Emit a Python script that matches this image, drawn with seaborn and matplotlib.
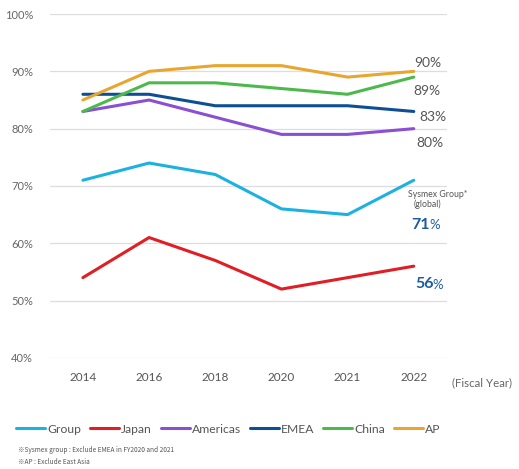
import matplotlib
matplotlib.use("Agg")
import matplotlib.pyplot as plt
import seaborn as sns
import pandas as pd

years = ["2014", "2016", "2018", "2020", "2021", "2022"]
group = [71, 74, 72, 66, 65, 71]
japan = [54, 61, 57, 52, 54, 56]
americas = [83, 85, 82, 79, 79, 80]
emea = [86, 86, 84, 84, 84, 83]
china = [83, 88, 88, 87, 86, 89]
ap = [85, 90, 91, 91, 89, 90]
series_names = ["Group", "Japan", "Americas", "EMEA", "China", "AP"]
colors = ["#1db1e2", "#e01e25", "#8a4fd3", "#0d4f97", "#4db94c", "#e8a630"]
yticks = [40, 50, 60, 70, 80, 90, 100]

sns.set_theme(style="white")
plt.rcParams['font.family'] = ['Lato', 'DejaVu Sans']

rows = []
for name, vals in zip(series_names, [group, japan, americas, emea, china, ap]):
    for i, (y, v) in enumerate(zip(years, vals)):
        rows.append({"idx": i, "year": y, "value": v, "series": name})
df = pd.DataFrame(rows)

fig = plt.figure(figsize=(5.19, 4.69), dpi=100)
ax = fig.add_axes([0.096, 0.237, 0.765, 0.733])

sns.lineplot(data=df, x="idx", y="value", hue="series", hue_order=series_names,
             palette=colors, linewidth=2.2, ax=ax, legend=False, sort=False)

ax.set_xlim(-0.5, 5.5)
ax.set_ylim(40, 100)
ax.set_yticks(yticks)
ax.set_yticklabels([f"{t}%" for t in yticks], fontsize=8, color="#666666")
ax.set_xticks(range(len(years)))
ax.set_xticklabels(years, fontsize=8.5, color="#555555")
ax.tick_params(axis='both', length=0, pad=10)
ax.tick_params(axis='y', pad=12)
for s in ax.spines.values():
    s.set_visible(False)
ax.grid(axis='y', color="#dddddd", linewidth=0.9)
ax.set_xlabel("")
ax.set_ylabel("")

ax.text(1.012, -0.073, "(Fiscal Year)", transform=ax.transAxes, fontsize=8.3,
        color="#666666", va="center", ha="left")

lab_col = "#555555"
ax.annotate("90%", (5, ap[5]), xytext=(0, 6), textcoords="offset points",
            ha="left", va="center", fontsize=10, color=lab_col)
ax.annotate("89%", (5, china[5]), xytext=(0, -10), textcoords="offset points",
            ha="left", va="center", fontsize=10, color=lab_col)
ax.annotate("83%", (5, emea[5]), xytext=(4, -4), textcoords="offset points",
            ha="left", va="center", fontsize=10, color=lab_col)
ax.annotate("80%", (5, americas[5]), xytext=(2, -10), textcoords="offset points",
            ha="left", va="center", fontsize=10, color=lab_col)
ax.annotate("Sysmex Group*", (5, group[5]), xytext=(-4, -10), textcoords="offset points",
            ha="left", va="center", fontsize=6.3, color=lab_col, annotation_clip=False)
ax.annotate("(global)", (5, group[5]), xytext=(0, -17), textcoords="offset points",
            ha="left", va="center", fontsize=6.3, color=lab_col)
blue = "#1a5c9f"
ax.annotate("71", (5, group[5]), xytext=(-2, -32), textcoords="offset points",
            ha="left", va="center", fontsize=11.5, fontweight="bold", color=blue)
ax.annotate("%", (5, group[5]), xytext=(11.5, -32.5), textcoords="offset points",
            ha="left", va="center", fontsize=9.5, color=blue)
ax.annotate("56", (5, japan[5]), xytext=(1, -13), textcoords="offset points",
            ha="left", va="center", fontsize=11.5, fontweight="bold", color=blue)
ax.annotate("%", (5, japan[5]), xytext=(13.3, -13.5), textcoords="offset points",
            ha="left", va="center", fontsize=9.5, color=blue)

from matplotlib.lines import Line2D
handles = [Line2D([0], [0], color=c, lw=2.2) for c in colors]
fig.legend(handles, series_names, loc="center", bbox_to_anchor=(0.44, 0.085), ncol=6,
           frameon=False, fontsize=8.7, handlelength=2.4, handletextpad=0.2,
           columnspacing=0.7, labelcolor="#555555")

fig.text(0.035, 0.040, "※Sysmex group : Exclude EMEA in FY2020 and 2021", fontsize=4.7,
         color="#555555", va="center", family=['Noto Sans CJK JP', 'DejaVu Sans'])
fig.text(0.035, 0.015, "※AP : Exclude East Asia", fontsize=4.7,
         color="#555555", va="center", family=['Noto Sans CJK JP', 'DejaVu Sans'])

fig.savefig("out.png", dpi=100)
